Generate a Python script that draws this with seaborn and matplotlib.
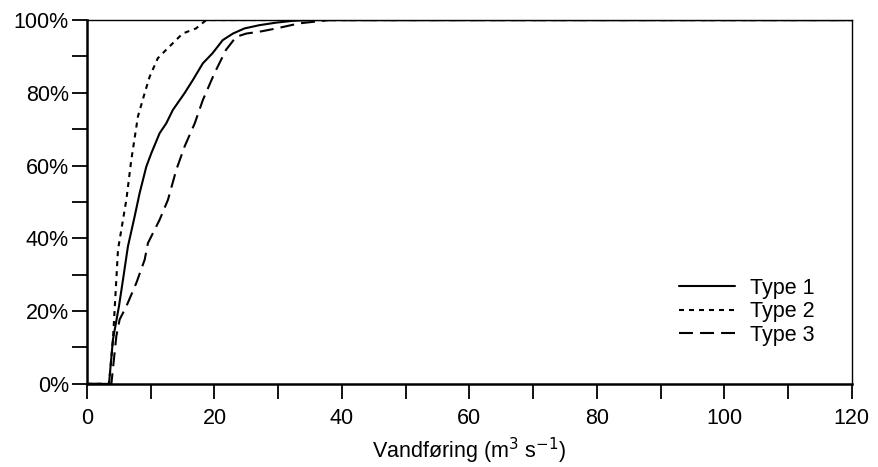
import numpy as np
import pandas as pd
import matplotlib
matplotlib.use("Agg")
import matplotlib.pyplot as plt
import seaborn as sns
from matplotlib.ticker import MultipleLocator, PercentFormatter

# Cumulative distribution of discharge (m3/s) by type
type1_x = [0, 3.45, 4.07, 5.01, 5.64, 6.42, 7.47, 8.25, 9.30, 10.09, 11.39, 12.43, 13.47,
           15.3, 16.6, 18.17, 19.7, 21.3, 22.9, 24.7, 27.05, 29.7, 32.3, 35.0, 120]
type1_y = [0, 0, 12.2, 21.3, 28.6, 37.8, 46.0, 52.4, 59.7, 63.4, 68.9, 71.6, 75.3,
           79.9, 83.5, 88.1, 90.9, 94.5, 96.3, 97.7, 98.6, 99.3, 99.8, 100, 100]

type2_x = [0, 3.45, 4.07, 4.86, 6.17, 6.95, 7.99, 9.04, 9.82, 11.1, 12.4, 15.0, 17.1, 18.7, 120]
type2_y = [0, 0, 12.2, 36.9, 50.6, 61.6, 73.5, 79.9, 84.4, 89.5, 91.8, 96.3, 97.7, 100, 100]

type3_x = [0, 3.82, 4.6, 5.12, 6.17, 7.73, 9.04, 9.56, 11.39, 12.7, 14.0, 15.3, 16.9,
           18.17, 20.0, 21.8, 23.4, 25.0, 27.05, 29.7, 33.3, 38.0, 120]
type3_y = [0, 0, 13.1, 17.7, 21.3, 27.7, 34.1, 38.7, 45.1, 50.6, 58.8, 65.2, 71.6,
           78.0, 85.4, 91.8, 95.4, 96.3, 96.8, 97.7, 99.1, 100, 100]

series_names = ["Type 1", "Type 2", "Type 3"]
x_ticks = [0, 20, 40, 60, 80, 100, 120]
y_ticks = [0, 20, 40, 60, 80, 100]

frames = []
for name, xs, ys in zip(series_names, [type1_x, type2_x, type3_x], [type1_y, type2_y, type3_y]):
    frames.append(pd.DataFrame({"x": xs, "y": ys, "Type": name, "order": range(len(xs))}))
df = pd.concat(frames, ignore_index=True)

sns.set_style("ticks")
plt.rcParams['font.family'] = ['Liberation Sans', 'DejaVu Sans']
plt.rcParams['text.color'] = 'black'
plt.rcParams['axes.labelcolor'] = 'black'

fig = plt.figure(figsize=(8.79, 4.67), dpi=100)
ax = fig.add_axes([0.099, 0.178, 0.870, 0.779])

lw = 1.5
dashes = {"Type 1": "", "Type 2": (2.4, 2.4), "Type 3": (6.7, 3.4)}
sns.lineplot(data=df, x="x", y="y", style="Type", dashes=dashes, color="black",
             sort=False, estimator=None, units="Type", linewidth=lw, ax=ax)

ax.set_xlim(0, 120)
ax.set_ylim(0, 100)
ax.set_xticks(x_ticks)
ax.xaxis.set_minor_locator(MultipleLocator(10))
ax.set_yticks(y_ticks)
ax.yaxis.set_minor_locator(MultipleLocator(10))
ax.yaxis.set_major_formatter(PercentFormatter(100, decimals=0))
ax.tick_params(axis="both", which="both", direction="out", length=10.5, width=1.3,
               labelsize=15.5, colors="black")
ax.tick_params(axis="x", pad=7)
ax.tick_params(axis="y", pad=2.5)

for s in ["left", "bottom"]:
    ax.spines[s].set_linewidth(1.8)
for s in ["top", "right"]:
    ax.spines[s].set_linewidth(1.0)
    ax.spines[s].set_visible(True)
for s in ax.spines.values():
    s.set_color("black")

ax.set_xlabel("Vandføring (m$^3$ s$^{-1}$)", fontsize=15.5, labelpad=5, color="black")
ax.set_ylabel("")

leg = ax.legend(title=None, frameon=False, loc="upper left",
                bbox_to_anchor=(0.763, 0.316), borderaxespad=0, fontsize=15.5,
                handlelength=2.6, labelspacing=0.12, handletextpad=0.7)
for line in leg.get_lines():
    line.set_linewidth(lw)
for t in leg.get_texts():
    t.set_color("black")

fig.savefig("out.png", dpi=100)
